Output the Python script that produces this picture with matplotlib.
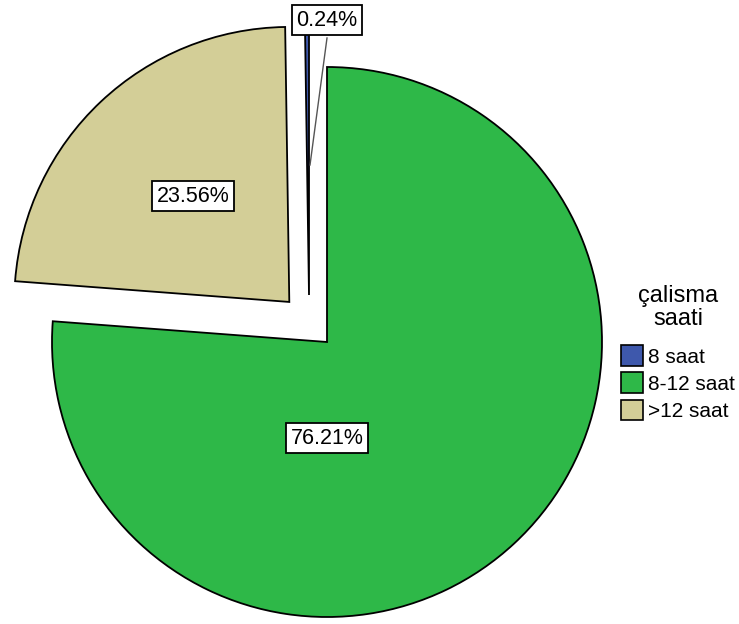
import matplotlib
matplotlib.use("Agg")
import matplotlib.pyplot as plt
from matplotlib.patches import Patch

categories = ["8 saat", "8-12 saat", ">12 saat"]
percentages = [0.24, 76.21, 23.56]
colors = ["#3E58AC", "#2EB848", "#D3CE97"]
legend_title = "çalisma\nsaati"

plt.rcParams['font.family'] = ['Liberation Sans', 'DejaVu Sans']

W, H = 739, 624
fig = plt.figure(figsize=(W / 100, H / 100), dpi=100)
ax = fig.add_axes([0, 0, 1, 1])

# pixel geometry of the pie in the reference
cx, cy, R = 327, 342, 275

def px(x, y):
    return ((x - cx) / R, (cy - y) / R)

# order on the pie: 8 saat, >12 saat, 8-12 saat (counter-clockwise from 12 o'clock)
order = [0, 2, 1]
vals = [percentages[i] for i in order]
cols = [colors[i] for i in order]
explode = [0.17, 0.2, 0.0]

wedges, _ = ax.pie(vals, colors=cols, startangle=90, counterclock=True,
                   explode=explode, radius=1, center=(0, 0),
                   wedgeprops=dict(edgecolor="black", linewidth=1.3))
# blue slice offset as in reference
wedges[0].set_center(px(309, 295))

ax.set_xlim(-cx / R, (W - cx) / R)
ax.set_ylim((cy - H) / R, cy / R)
ax.set_aspect("auto")
ax.axis("off")

box = dict(boxstyle="square,pad=0.22", facecolor="white", edgecolor="black", linewidth=1.3)
label_pos = {0: (327, 20), 2: (193, 196), 1: (327, 438)}
for i, (x, y) in label_pos.items():
    ax.text(*px(x, y), f"{percentages[i]:.2f}%", ha="center", va="center",
            fontsize=15.5, bbox=box, zorder=5)

# leader line for the small slice
ax.plot(*zip(px(327, 38), px(310, 165)), color="#555555", linewidth=1, zorder=4)

handles = [Patch(facecolor=c, edgecolor="black", linewidth=1.2) for c in colors]
leg = fig.legend(handles, categories, title=legend_title, loc="upper left",
                 bbox_to_anchor=(621 / W, 1 - 285 / H), frameon=False,
                 fontsize=15, title_fontsize=17, handlelength=1.05,
                 handleheight=1.15, handletextpad=0.25, labelspacing=0.28,
                 borderaxespad=0, borderpad=0)
leg.get_title().set_multialignment("center")
leg.get_title().set_linespacing(1.05)
leg._legend_box.sep = 11

fig.savefig("out.png", dpi=100)
